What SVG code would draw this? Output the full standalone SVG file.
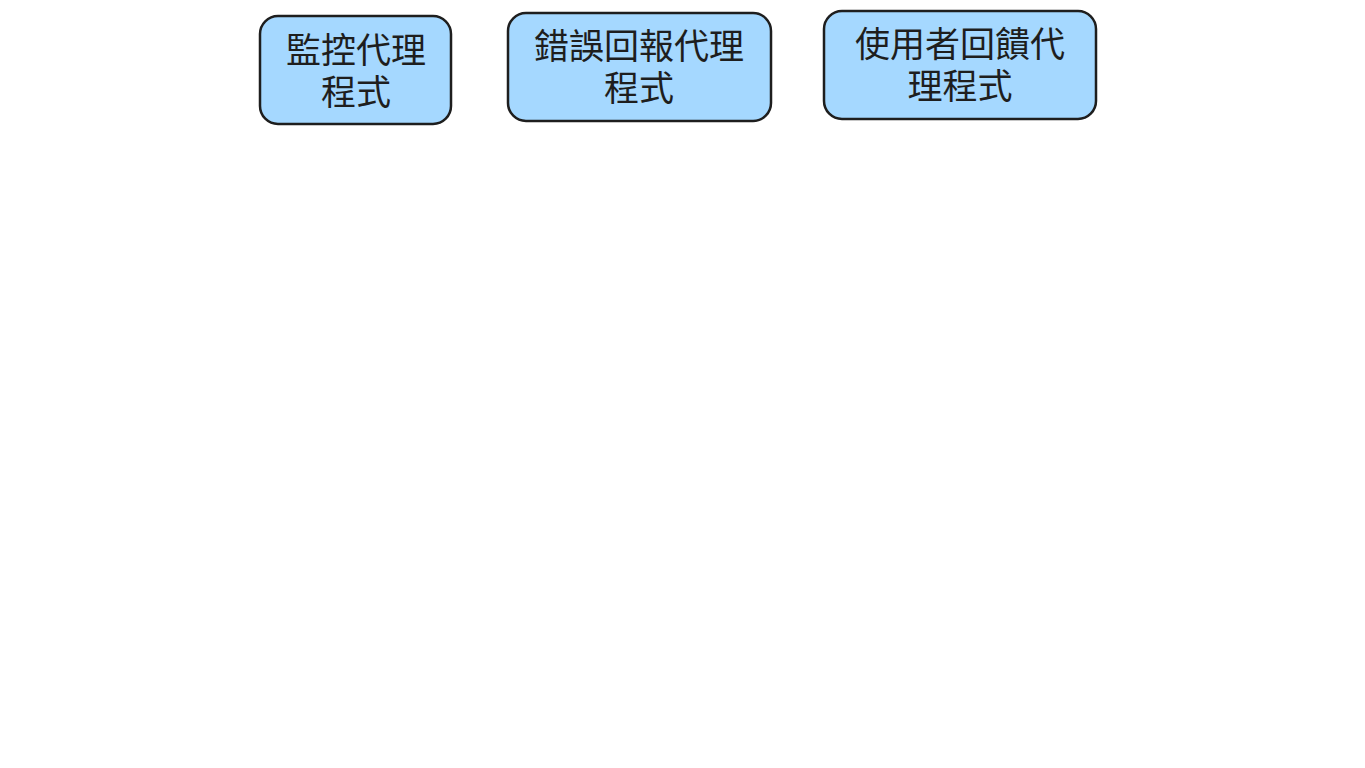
<svg xmlns="http://www.w3.org/2000/svg" width="1365" height="768" viewBox="0 0 1365 768">
<style>
.box{fill:#a5d8ff;stroke:#1e1e1e;stroke-width:2.5;stroke-linejoin:round}
.lbl{font-family:"Liberation Sans","Noto Sans CJK TC","Noto Sans CJK SC",sans-serif;font-size:35px;fill:#1e1e1e;text-anchor:middle}
</style>
<rect x="0" y="0" width="1365" height="768" fill="#ffffff"/>
<g id="connectors"></g>
<g id="node-monitor">
<rect class="box" x="260" y="16" width="191" height="108" rx="18"/>
<text class="lbl" x="356" y="63">監控代理</text>
<text class="lbl" x="356" y="105">程式</text>
</g>
<g id="node-error">
<rect class="box" x="508" y="13" width="263" height="108" rx="18"/>
<text class="lbl" x="639" y="59">錯誤回報代理</text>
<text class="lbl" x="639" y="101">程式</text>
</g>
<g id="node-feedback">
<rect class="box" x="824" y="11" width="272" height="108" rx="18"/>
<text class="lbl" x="960" y="57">使用者回饋代</text>
<text class="lbl" x="960" y="99">理程式</text>
</g>
</svg>
